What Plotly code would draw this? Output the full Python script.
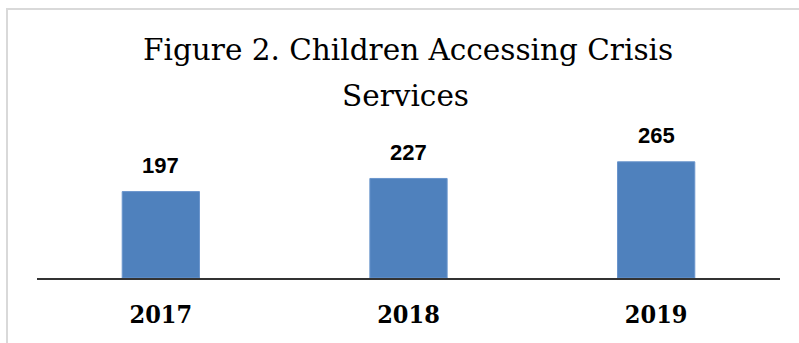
import plotly.graph_objects as go

years = ["2017", "2018", "2019"]
children = [197, 227, 265]
title_lines = ["Figure 2. Children Accessing Crisis", "Services"]

W, H = 799, 343
L, R, T, B = 37, 19, 146, 65
plot_w = W - L - R
plot_h = H - T - B


def px_x(px):
    return (px - L) / plot_w


def px_y(py):
    return (H - B - py) / plot_h


fig = go.Figure()
fig.add_trace(go.Bar(
    x=years, y=children,
    marker=dict(color="#4F81BD", line=dict(color="#6A95CC", width=1)),
    hoverinfo="skip",
))

annotations = []
for i, v in enumerate(children):
    annotations.append(dict(
        x=i, y=v, xref="x", yref="y", text=str(v), showarrow=False,
        yanchor="middle", yshift=26,
        font=dict(family="Liberation Sans, Arial, sans-serif", size=22, color="#000000", weight="bold"),
    ))

title_y = [50, 96]
title_x = [407.5, 405]
for line, ty, tx in zip(title_lines, title_y, title_x):
    annotations.append(dict(
        x=px_x(tx), y=px_y(ty), xref="paper", yref="paper", text=line,
        showarrow=False, xanchor="center", yanchor="middle",
        font=dict(family="DejaVu Serif, serif", size=29.5, color="#000000"),
    ))

fig.update_layout(
    width=W, height=H,
    margin=dict(l=L, r=R, t=T, b=B, pad=0),
    paper_bgcolor="white", plot_bgcolor="white",
    bargap=0.688,
    showlegend=False,
    annotations=annotations,
    shapes=[dict(
        type="rect", xref="paper", yref="paper",
        x0=px_x(7), x1=px_x(810), y0=px_y(360), y1=px_y(9),
        line=dict(color="#D9D9D9", width=2), fillcolor="rgba(0,0,0,0)", layer="below",
    )],
    xaxis=dict(
        type="category", range=[-0.5, len(years) - 0.5],
        showline=True, linecolor="#333333", linewidth=1.5,
        showgrid=False, zeroline=False, ticks="",
        ticklabelstandoff=13,
        tickfont=dict(family="DejaVu Serif Condensed, DejaVu Serif, serif", size=25, color="#000000", weight="bold"),
    ),
    yaxis=dict(
        range=[0, plot_h / 0.4385], showgrid=False, zeroline=False,
        showticklabels=False, ticks="", showline=False,
    ),
)

fig.write_html("out.html")
